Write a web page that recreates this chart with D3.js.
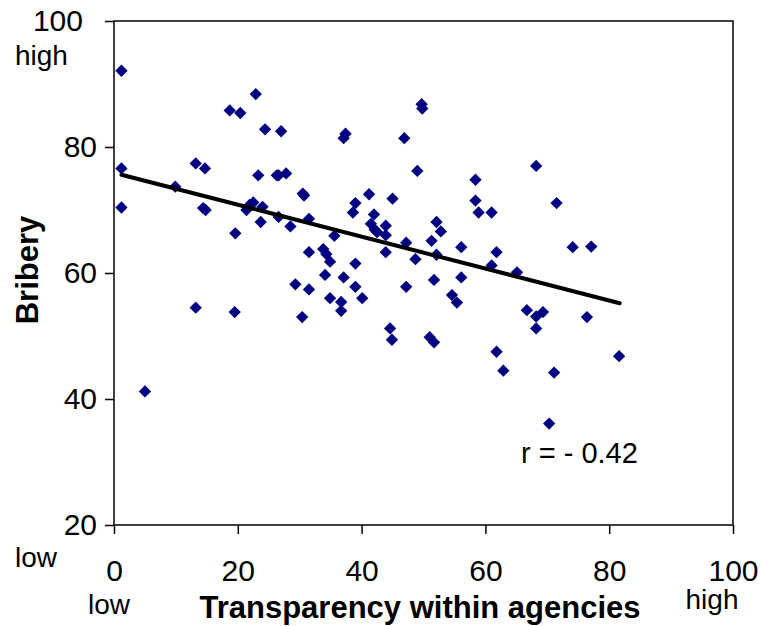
<!DOCTYPE html>
<html>
<head>
<meta charset="utf-8">
<script src="https://cdn.jsdelivr.net/npm/d3@7"></script>
<style>
  html, body { margin: 0; padding: 0; background: #fff; }
  text { font-family: "Liberation Sans", Arial, sans-serif; }
</style>
</head>
<body>
<svg id="chart" width="761" height="626"></svg>
<script>
// ---- data ----
const transparency = [1.2, 22.9, 18.7, 20.4, 24.4, 27.0, 1.2, 13.2, 14.7, 23.3,
  26.3, 26.6, 27.8, 9.9, 1.2, 14.4, 14.8, 21.4, 21.9, 22.5,
  24.0, 23.7, 26.6, 28.5, 31.5, 19.6, 30.5, 30.7, 49.7, 49.8,
  37.4, 37.1, 46.9, 49.0, 41.2, 45.0, 39.0, 38.6, 42.0, 41.5,
  42.1, 42.5, 43.9, 43.9, 52.1, 52.8, 51.3, 47.2, 35.6, 56.1,
  31.5, 33.8, 34.3, 34.9, 39.0, 43.9, 48.7, 52.1, 61.8, 61.0,
  65.1, 34.1, 37.1, 29.3, 31.5, 39.0, 34.9, 36.7, 36.7, 40.1,
  30.4, 47.2, 51.7, 56.1, 54.6, 55.4, 44.6, 44.9, 51.0, 51.7,
  58.4, 58.4, 58.9, 61.0, 68.2, 71.5, 74.1, 77.1, 66.7, 68.2,
  69.3, 76.4, 68.2, 61.8, 62.9, 71.1, 81.6, 70.3, 13.2, 19.5,
  5.0];
const bribery = [92.1, 88.4, 85.8, 85.4, 82.8, 82.5, 76.6, 77.4, 76.6, 75.5,
  75.5, 75.5, 75.8, 73.7, 70.4, 70.3, 70.0, 70.0, 70.8, 71.2,
  70.5, 68.1, 68.9, 67.4, 68.6, 66.3, 72.6, 72.3, 86.8, 86.1,
  82.1, 81.4, 81.4, 76.2, 72.5, 71.8, 71.1, 69.6, 69.3, 67.8,
  66.9, 66.5, 67.5, 66.0, 68.1, 66.6, 65.1, 64.8, 65.9, 64.1,
  63.3, 63.8, 63.0, 61.8, 61.5, 63.3, 62.2, 62.9, 63.3, 61.2,
  60.1, 59.7, 59.3, 58.2, 57.4, 57.8, 56.0, 55.4, 54.0, 56.0,
  53.0, 57.8, 58.9, 59.3, 56.5, 55.3, 51.2, 49.4, 49.8, 49.0,
  74.8, 71.5, 69.6, 69.6, 77.0, 71.1, 64.1, 64.2, 54.1, 53.1,
  53.8, 53.0, 51.2, 47.5, 44.5, 44.2, 46.8, 36.1, 54.5, 53.8,
  41.2];
const trendX = [1.2, 81.7];
const trendY = [75.6, 55.2];
const xTicks = [0, 20, 40, 60, 80, 100];
const yTicks = [20, 40, 60, 80, 100];
const xTitle = "Transparency within agencies";
const yTitle = "Bribery";
const rLabel = "r = - 0.42";

// ---- drawing ----
const svg = d3.select("#chart");
svg.append("rect").attr("width", 761).attr("height", 626).attr("fill", "#fff");

const mLeft = 114, mRight = 733, mTop = 21, mBottom = 525;
const x = d3.scaleLinear().domain([0, 100]).range([mLeft, mRight]);
const y = d3.scaleLinear().domain([20, 100]).range([mBottom, mTop]);

// frame
svg.append("rect")
  .attr("x", mLeft).attr("y", mTop)
  .attr("width", mRight - mLeft).attr("height", mBottom - mTop)
  .attr("fill", "none").attr("stroke", "#000").attr("stroke-width", 1.5);

const fs = 30;
const yAxis = svg.append("g").attr("transform", `translate(${mLeft},0)`)
  .call(d3.axisLeft(y).tickValues(yTicks).tickSize(9).tickPadding(8).tickFormat(d3.format("d")));
const xAxis = svg.append("g").attr("transform", `translate(0,${mBottom})`)
  .call(d3.axisBottom(x).tickValues(xTicks).tickSize(9).tickPadding(26).tickFormat(d3.format("d")));
[xAxis, yAxis].forEach(g => {
  g.select(".domain").remove();
  g.selectAll(".tick line").attr("stroke", "#000").attr("stroke-width", 1.5);
  g.selectAll(".tick text").attr("font-size", fs).attr("fill", "#000")
    .attr("font-family", '"Liberation Sans", Arial, sans-serif');
});
// the top "100" label sits further left in the original
yAxis.selectAll(".tick").filter(d => d === 100).select("text").attr("dx", -14);

// points (diamonds)
const diamond = d3.symbol().type(d3.symbolSquare).size(76);
svg.append("g").selectAll("path").data(transparency.map((t, i) => [t, bribery[i]]))
  .join("path")
  .attr("d", diamond)
  .attr("transform", d => `translate(${x(d[0])},${y(d[1])}) rotate(45)`)
  .attr("fill", "#000080");

// trend line
svg.append("line")
  .attr("x1", x(trendX[0])).attr("y1", y(trendY[0]))
  .attr("x2", x(trendX[1])).attr("y2", y(trendY[1]))
  .attr("stroke", "#000").attr("stroke-width", 4).attr("stroke-linecap", "round");

// texts
svg.append("text").attr("x", 15).attr("y", 65).attr("font-size", 28).text("high");
svg.append("text").attr("x", 15).attr("y", 567).attr("font-size", 28).text("low");
svg.append("text").attr("x", 109).attr("y", 614).attr("font-size", 28).attr("text-anchor", "middle").text("low");
svg.append("text").attr("x", 712).attr("y", 609).attr("font-size", 28).attr("text-anchor", "middle").text("high");
svg.append("text").attr("x", 420).attr("y", 618).attr("font-size", 31).attr("font-weight", "bold")
  .attr("text-anchor", "middle").text(xTitle);
svg.append("text").attr("transform", "translate(38,270) rotate(-90)").attr("font-size", 31)
  .attr("font-weight", "bold").attr("text-anchor", "middle").text(yTitle);
svg.append("text").attr("x", 521).attr("y", 463).attr("font-size", 29).text(rLabel);
</script>
</body>
</html>
